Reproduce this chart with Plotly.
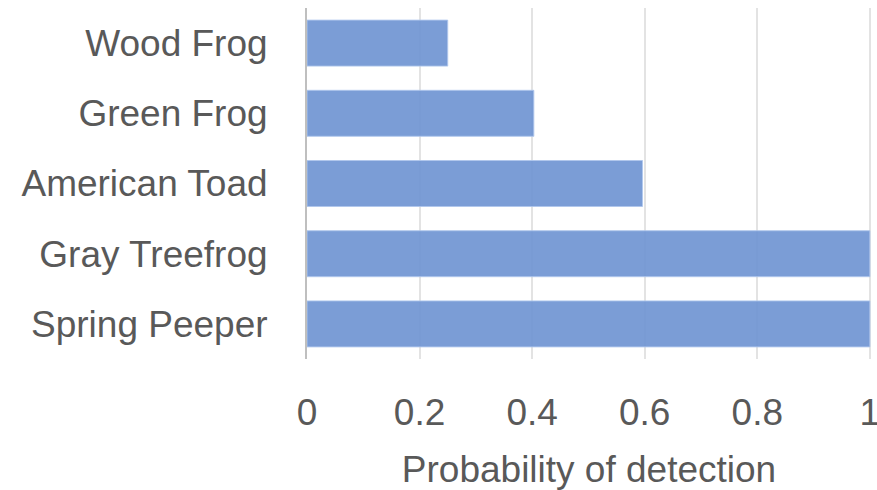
import plotly.graph_objects as go

species = ["Wood Frog", "Green Frog", "American Toad", "Gray Treefrog", "Spring Peeper"]
detection = [0.25, 0.403, 0.596, 1.0, 1.0]
x_ticks = [0, 0.2, 0.4, 0.6, 0.8, 1]
x_tick_text = ["0", "0.2", "0.4", "0.6", "0.8", "1"]

FONT = "Liberation Sans"
TEXT = "#595959"

fig = go.Figure(
    go.Bar(
        x=detection,
        y=species,
        orientation="h",
        marker=dict(
            color="rgba(112,149,211,0.92)",
            line=dict(color="rgba(175,198,236,0.9)", width=1),
        ),
        width=0.655,
    )
)

fig.update_layout(
    width=877,
    height=490,
    margin=dict(l=307, r=6, t=8, b=131, autoexpand=False),
    paper_bgcolor="white",
    plot_bgcolor="white",
    showlegend=False,
    font=dict(family=FONT, color=TEXT, size=37),
    xaxis=dict(
        range=[0, 1.002],
        tickvals=x_ticks,
        ticktext=x_tick_text,
        showgrid=True,
        gridcolor="#e3e3e3",
        gridwidth=2,
        zeroline=False,
        showline=False,
        ticks="",
        automargin=False,
        ticklabelstandoff=28,
        ticklabeloverflow="allow",
        tickfont=dict(size=37, color=TEXT),
        title=dict(text="Probability of detection", font=dict(size=37, color=TEXT), standoff=25),
    ),
    yaxis=dict(
        autorange="reversed",
        showgrid=False,
        showline=True,
        linecolor="#bfbfbf",
        linewidth=2,
        ticks="",
        automargin=False,
        ticklabelstandoff=30,
        tickfont=dict(size=37, color=TEXT),
    ),
)

fig.write_html("out.html")
